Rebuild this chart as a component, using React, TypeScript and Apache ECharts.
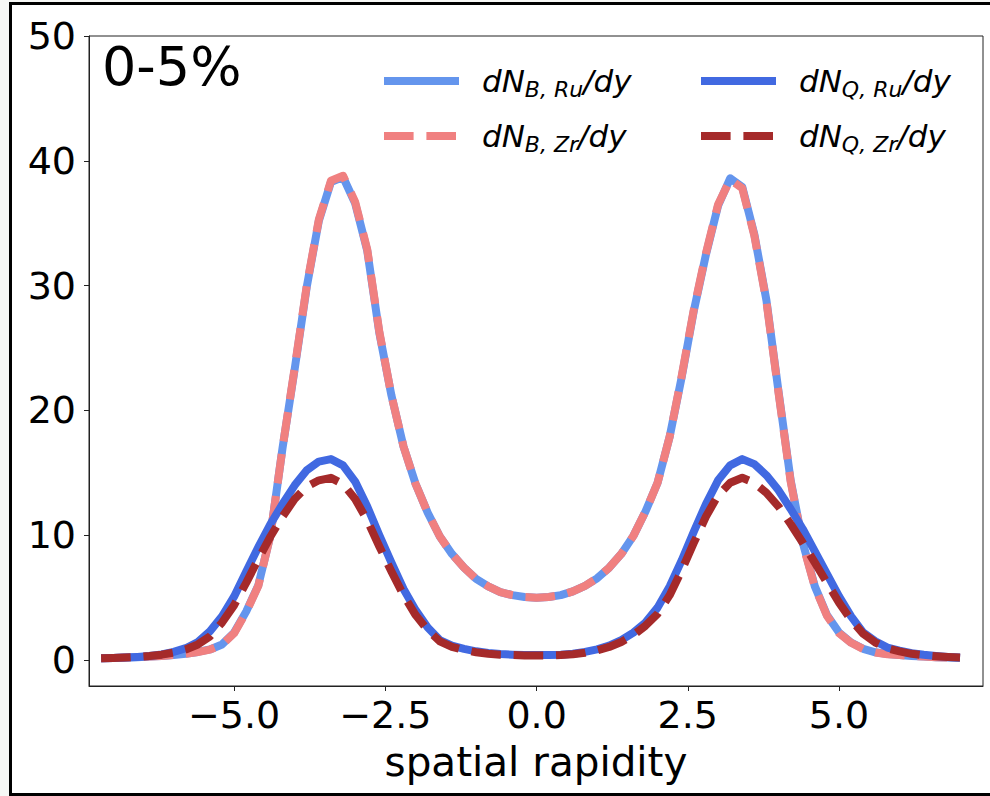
import React, { useEffect, useRef } from "react";
import * as echarts from "echarts";

const rapidity = [-7.2,-7.0,-6.8,-6.6,-6.4,-6.2,-6.0,-5.8,-5.6,-5.4,-5.2,-5.0,-4.8,-4.6,-4.4,-4.2,-4.0,-3.8,-3.6,-3.4,-3.2,-3.0,-2.8,-2.6,-2.4,-2.2,-2.0,-1.8,-1.6,-1.4,-1.2,-1.0,-0.8,-0.6,-0.4,-0.2,0.0,0.2,0.4,0.6,0.8,1.0,1.2,1.4,1.6,1.8,2.0,2.2,2.4,2.6,2.8,3.0,3.2,3.4,3.6,3.8,4.0,4.2,4.4,4.6,4.8,5.0,5.2,5.4,5.6,5.8,6.0,6.2,6.4,6.6,6.8,7.0];

const dNB_Ru = [
  0.15,0.17,0.2,0.23,0.28,0.33,0.4,0.5,0.65,0.85,1.25,
  2.2,3.9,6.0,10.0,17.0,23.3,29.9,35.2,38.3,38.7,
  36.6,32.8,26.2,21.2,17.1,14.1,11.8,9.9,8.5,7.4,6.5,5.9,5.45,5.2,5.05,
  5.0,
  5.05,5.2,5.5,5.95,6.55,7.4,8.5,9.95,11.9,14.2,17.9,22.7,28.0,32.5,36.4,
  38.6,37.9,34.1,28.8,21.5,14.4,9.4,5.9,3.6,2.2,
  1.4,0.9,0.62,0.48,0.4,0.33,0.28,0.23,0.2,0.17,
];

const dNB_Zr = [
  0.15,0.17,0.2,0.23,0.28,0.33,0.4,0.5,0.64,0.84,1.22,
  2.15,3.85,5.95,10.0,17.0,23.4,30.0,35.3,38.4,38.8,
  36.7,32.9,26.3,21.2,17.1,14.1,11.8,9.9,8.5,7.4,6.5,5.9,5.45,5.2,5.05,
  5.0,
  5.05,5.2,5.5,5.95,6.55,7.4,8.5,9.95,11.9,14.2,17.9,22.8,28.1,32.6,36.5,
  38.5,37.8,34.0,28.7,21.4,14.3,9.3,5.85,3.55,2.15,
  1.38,0.88,0.61,0.47,0.4,0.33,0.28,0.23,0.2,0.17,
];

const dNQ_Ru = [
  0.15,0.17,0.2,0.25,0.32,0.45,0.65,0.95,1.45,2.3,3.5,
  5.1,7.1,9.05,10.9,12.5,14.0,15.2,15.9,16.1,15.6,
  14.3,12.3,10.0,7.8,5.7,4.0,2.6,1.6,1.15,0.9,0.7,0.57,0.48,0.43,0.4,
  0.4,
  0.4,0.43,0.5,0.65,0.85,1.15,1.6,2.2,3.0,4.2,5.9,8.0,10.3,12.5,14.4,
  15.6,16.1,15.7,14.8,13.6,12.1,10.5,8.7,6.9,5.1,
  3.5,2.2,1.5,1.0,0.75,0.55,0.42,0.33,0.25,0.2,
];

const dNQ_Zr = [
  0.15,0.17,0.2,0.25,0.32,0.43,0.6,0.85,1.25,1.9,3.0,
  4.4,6.2,8.1,9.9,11.5,12.9,13.9,14.4,14.6,14.1,
  12.9,11.2,9.1,7.1,5.2,3.6,2.4,1.5,1.05,0.8,0.62,0.5,0.43,0.4,0.37,
  0.37,
  0.37,0.4,0.46,0.58,0.78,1.05,1.45,2.0,2.75,3.7,5.2,7.2,9.4,11.5,13.2,
  14.2,14.6,14.2,13.4,12.3,10.9,9.4,7.8,6.2,4.6,
  3.2,2.1,1.4,0.95,0.7,0.5,0.38,0.3,0.24,0.2,
];

const xTicks = [-5, -2.5, 0, 2.5, 5];
const yTicks = [0, 10, 20, 30, 40, 50];

const seriesNames = ["B_Ru", "B_Zr", "Q_Ru", "Q_Zr"];
const legendLabels: Record<string, string> = {
  B_Ru: "{i|dN}{s|B, Ru}{i|/dy}",
  B_Zr: "{i|dN}{s|B, Zr}{i|/dy}",
  Q_Ru: "{i|dN}{s|Q, Ru}{i|/dy}",
  Q_Zr: "{i|dN}{s|Q, Zr}{i|/dy}",
};

const FONT = "DejaVu Sans";
const DASH = [29.6, 12.8];

export default function App() {
  const ref = useRef<HTMLDivElement>(null);
  useEffect(() => {
    if (!ref.current) return;
    const chart = echarts.init(ref.current, undefined, { renderer: "svg" });
    const pairs = (ys: number[]) => rapidity.map((x, i) => [x, ys[i]]);
    const mk = (name: string, ys: number[], color: string, dashed: boolean) => ({
      name,
      type: "line",
      data: pairs(ys),
      symbol: "none",
      showSymbol: false,
      smooth: false,
      lineStyle: { color, width: 8, type: dashed ? DASH : "solid", cap: "butt", join: "round" },
      itemStyle: { color },
    });
    const rich = {
      i: { fontFamily: FONT, fontStyle: "italic", fontSize: 31, color: "#000", lineHeight: 40 },
      s: { fontFamily: FONT, fontStyle: "italic", fontSize: 22, color: "#000", lineHeight: 40, padding: [16, 0, 0, 0] },
    };
    const legendCommon = {
      orient: "vertical",
      itemWidth: 75,
      itemHeight: 8,
      itemGap: 17,
      padding: 0,
      formatter: (n: string) => legendLabels[n],
      textStyle: { padding: [0, 0, 0, 18], rich },
      itemStyle: { opacity: 0 },
      lineStyle: { width: 8 },
      selectedMode: false,
    };
    chart.setOption({
      animation: false,
      backgroundColor: "#f6f7f5",
      graphic: [
        {
          type: "rect",
          z: -10,
          silent: true,
          shape: { x: 10.5, y: 3.5, width: 1000, height: 791 },
          style: { fill: "#ffffff", stroke: "#000", lineWidth: 3 },
        },
      ],
      title: {
        text: "0-5%",
        left: 97,
        top: 34,
        textStyle: { fontFamily: FONT, fontSize: 54, fontWeight: "normal", color: "#000" },
      },
      legend: [
        { ...legendCommon, data: [seriesNames[0], seriesNames[1]], left: 380, top: 62 },
        { ...legendCommon, data: [seriesNames[2], seriesNames[3]], left: 697, top: 62 },
      ],
      grid: {
        left: 89,
        right: 7,
        top: 36,
        bottom: 110,
        show: true,
        borderColor: "#222",
        borderWidth: 1,
        backgroundColor: "transparent",
      },
      xAxis: {
        type: "value",
        min: -7.4,
        max: 7.38,
        name: "spatial rapidity",
        nameLocation: "middle",
        nameGap: 55,
        nameTextStyle: { fontFamily: FONT, fontSize: 40.5, color: "#000" },
        axisLine: { show: true, onZero: false, lineStyle: { color: "#222", width: 1 } },
        axisTick: { show: true, length: 5, customValues: xTicks, lineStyle: { color: "#222" } },
        axisLabel: {
          customValues: xTicks,
          margin: 10,
          fontFamily: FONT,
          fontSize: 38,
          color: "#000",
          formatter: (v: number) => (v < 0 ? "\u2212" : "") + Math.abs(v).toFixed(1),
        },
        splitLine: { show: false },
      },
      yAxis: {
        type: "value",
        min: -2.08,
        max: 50,
        axisLine: { show: true, onZero: false, lineStyle: { color: "#222", width: 1 } },
        axisTick: { show: true, length: 5, customValues: yTicks, lineStyle: { color: "#222" } },
        axisLabel: {
          customValues: yTicks,
          margin: 13,
          fontFamily: FONT,
          fontSize: 38,
          color: "#000",
          formatter: (v: number) => String(v),
        },
        splitLine: { show: false },
      },
      series: [
        mk(seriesNames[0], dNB_Ru, "#6495ED", false),
        mk(seriesNames[1], dNB_Zr, "#F08080", true),
        mk(seriesNames[2], dNQ_Ru, "#4169E1", false),
        mk(seriesNames[3], dNQ_Zr, "#A52A2A", true),
      ],
    });
    return () => chart.dispose();
  }, []);
  return (
    <div
      ref={ref}
      style={{ position: "fixed", left: 0, top: 0, width: 990, height: 796 }}
    />
  );
}
